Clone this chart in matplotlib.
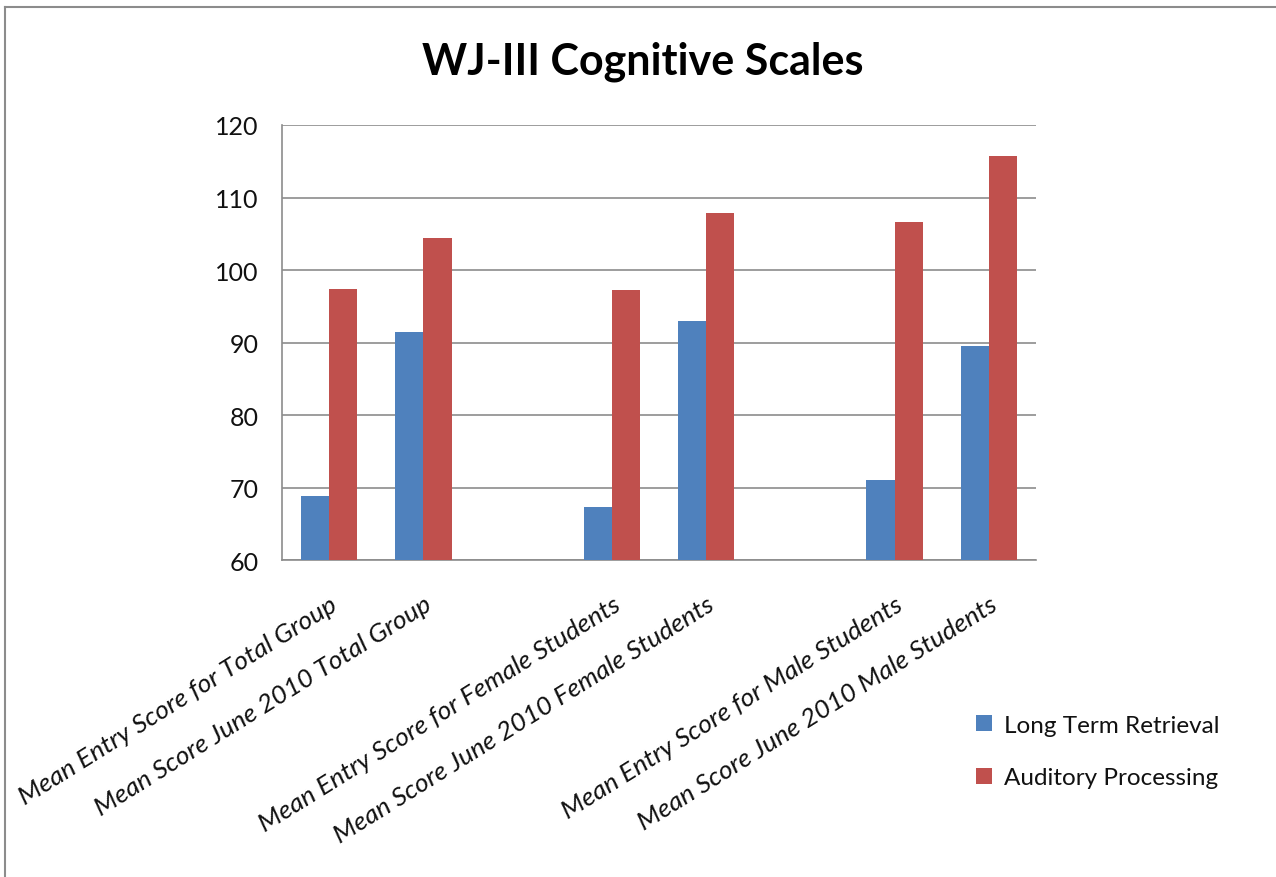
import matplotlib.pyplot as plt
import numpy as np

plt.rcParams['font.family'] = ['Lato', 'DejaVu Sans']

# categories (blank slots separate the three groups)
categories = [
    "Mean Entry Score for Total Group",
    "Mean Score June 2010 Total Group",
    "",
    "Mean Entry Score for Female Students",
    "Mean Score June 2010 Female Students",
    "",
    "Mean Entry Score for Male Students",
    "Mean Score June 2010 Male Students",
]
long_term = [68.8, 91.5, np.nan, 67.3, 92.9, np.nan, 71.0, 89.5]
auditory = [97.4, 104.4, np.nan, 97.3, 107.9, np.nan, 106.6, 115.7]

blue = '#4F81BD'
red = '#C0504D'

fig = plt.figure(figsize=(12.76, 8.78), dpi=100)
ax = fig.add_axes([0.221, 0.361, 0.591, 0.4955])

x = np.arange(len(categories))
w = 0.3
ax.bar(x - w/2, long_term, w, color=blue, label='Long Term Retrieval', zorder=3)
ax.bar(x + w/2, auditory, w, color=red, label='Auditory Processing', zorder=3)

ax.set_xlim(-0.5, len(categories) - 0.5)
ax.set_ylim(60, 120)
ax.set_yticks(range(60, 121, 10))
ax.yaxis.grid(True, color='#8c8c8c', linewidth=1.2, zorder=0)
ax.set_axisbelow(True)
for s in ['top', 'right']:
    ax.spines[s].set_visible(False)
for s in ['left', 'bottom']:
    ax.spines[s].set_color('#8c8c8c')
    ax.spines[s].set_linewidth(1.2)
ax.tick_params(axis='y', length=0, labelsize=18, colors='#111111', pad=17)
ax.set_xticks(x)
ax.set_xticklabels(categories, rotation=32, ha='right', rotation_mode='anchor',
                   fontsize=19, style='italic', color='#111111')
ax.tick_params(axis='x', length=0, pad=23)

fig.text(0.504, 0.93, 'WJ-III Cognitive Scales', ha='center', va='center',
         fontsize=31, fontweight='bold', color='black')

fig.legend(loc='center left', bbox_to_anchor=(0.748, 0.143), frameon=False,
           fontsize=17.5, handlelength=0.65, handleheight=0.65, handletextpad=0.5,
           labelspacing=1.3, labelcolor='#111111')

# outer chart border (left and top visible in the reference)
fig.add_artist(plt.Line2D([0.004, 0.004], [0.0, 0.991], color='#8c8c8c', lw=1.5))
fig.add_artist(plt.Line2D([0.004, 1.0], [0.991, 0.991], color='#8c8c8c', lw=1.5))

fig.savefig('out.png', dpi=100, facecolor='white')
